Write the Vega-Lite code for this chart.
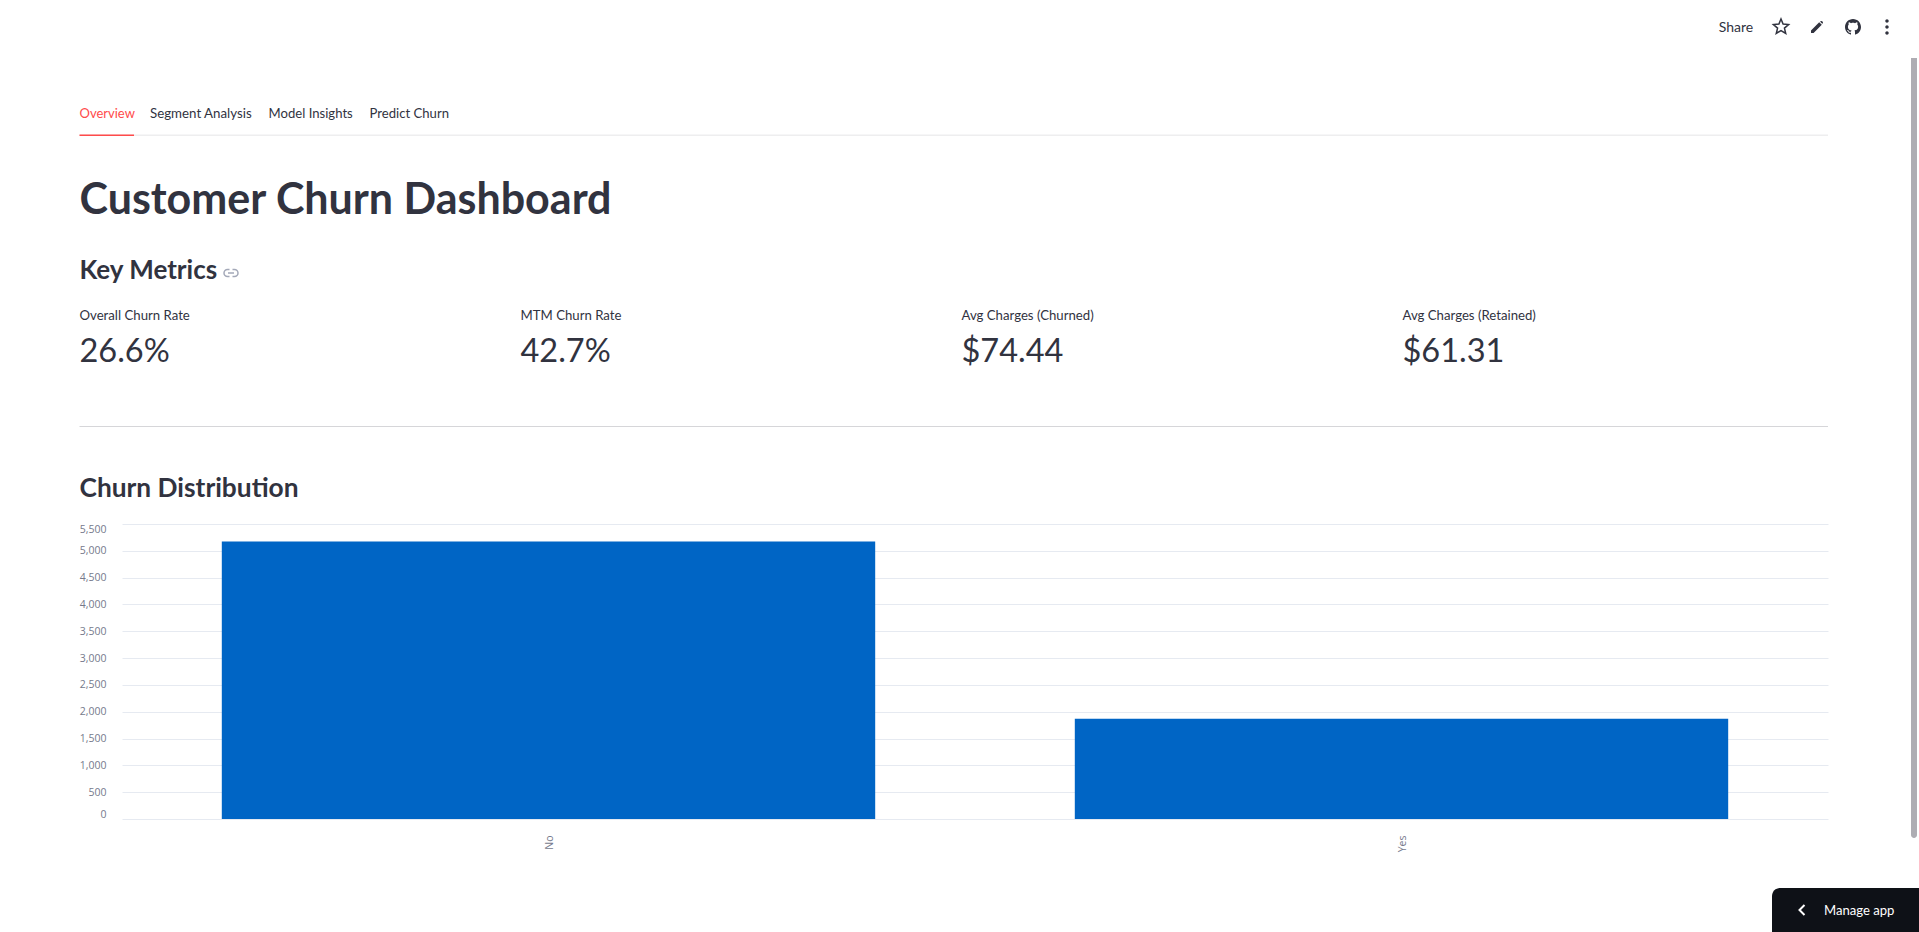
{"$schema":"https://vega.github.io/schema/vega-lite/v6.json","width":1706,"height":295,"autosize":"none","padding":{"left":122,"top":524,"right":91,"bottom":113},"background":"#ffffff","config":{"view":{"stroke":null},"text":{"font":"Lato"}},"resolve":{"scale":{"x":"independent","y":"independent"}},"layer":[
{"data":{"values":[{"Churn":"No","count":5174},{"Churn":"Yes","count":1869}]},"mark":{"type":"bar","color":"#0065c5"},"encoding":{"x":{"field":"Churn","type":"nominal","scale":{"type":"band","paddingInner":0.234,"paddingOuter":0.117},"axis":{"title":null,"labelAngle":-90,"labelColor":"#767a8c","labelFont":"Open Sans","labelFontSize":10.5,"ticks":false,"domain":false,"labelPadding":16,"labelOffset":1,"grid":false}},"y":{"field":"count","type":"quantitative","scale":{"domain":[0,5500]},"axis":{"title":null,"values":[0,500,1000,1500,2000,2500,3000,3500,4000,4500,5000,5500],"grid":true,"gridColor":"#e6eaf1","labelColor":"#767a8c","labelFont":"Open Sans","labelFontSize":10.5,"labelFlush":true,"labelPadding":16,"ticks":false,"domain":false}}}},
{"data":{"values":[{"part":"tab line"}]},"mark":{"type":"rect","color":"#eeeeef"},"encoding":{"x":{"field":"part","type":"nominal","scale":{"type":"band","range":[-42.5,1706],"paddingInner":0,"paddingOuter":0},"axis":null},"y":{"field":"part","type":"nominal","scale":{"type":"band","range":[-389.5,-388],"paddingInner":0,"paddingOuter":0},"axis":null}}},
{"data":{"values":[{"part":"active tab"}]},"mark":{"type":"rect","color":"#ff4b4b"},"encoding":{"x":{"field":"part","type":"nominal","scale":{"type":"band","range":[-42.5,12],"paddingInner":0,"paddingOuter":0},"axis":null},"y":{"field":"part","type":"nominal","scale":{"type":"band","range":[-389.5,-388],"paddingInner":0,"paddingOuter":0},"axis":null}}},
{"data":{"values":[{"part":"divider"}]},"mark":{"type":"rect","color":"#d6d6d9"},"encoding":{"x":{"field":"part","type":"nominal","scale":{"type":"band","range":[-42.5,1706],"paddingInner":0,"paddingOuter":0},"axis":null},"y":{"field":"part","type":"nominal","scale":{"type":"band","range":[-98,-97],"paddingInner":0,"paddingOuter":0},"axis":null}}},
{"data":{"values":[{"part":"scrollbar"}]},"mark":{"type":"rect","color":"#aeadb3","cornerRadiusBottomLeft":3,"cornerRadiusBottomRight":3},"encoding":{"x":{"field":"part","type":"nominal","scale":{"type":"band","range":[1789,1795],"paddingInner":0,"paddingOuter":0},"axis":null},"y":{"field":"part","type":"nominal","scale":{"type":"band","range":[-466,314],"paddingInner":0,"paddingOuter":0},"axis":null}}},
{"data":{"values":[{"part":"manage app"}]},"mark":{"type":"rect","color":"#0e1117","cornerRadiusTopLeft":8},"encoding":{"x":{"field":"part","type":"nominal","scale":{"type":"band","range":[1650,1797],"paddingInner":0,"paddingOuter":0},"axis":null},"y":{"field":"part","type":"nominal","scale":{"type":"band","range":[364,408],"paddingInner":0,"paddingOuter":0},"axis":null}}},
{"data":{"values":[{"tab":"Overview"}]},"mark":{"type":"text","align":"left","baseline":"middle","fontSize":13,"color":"#ff4b4b"},"encoding":{"text":{"field":"tab"},"x":{"field":"tab","type":"nominal","scale":{"type":"point","padding":0,"range":[-42.5,-42.5]},"axis":null},"y":{"field":"tab","type":"nominal","scale":{"type":"point","padding":0,"range":[-409.7,-409.7]},"axis":null}}},
{"data":{"values":[{"tab":"Segment Analysis"}]},"mark":{"type":"text","align":"left","baseline":"middle","fontSize":13.3,"color":"#31333f"},"encoding":{"text":{"field":"tab"},"x":{"field":"tab","type":"nominal","scale":{"type":"point","padding":0,"range":[28,28]},"axis":null},"y":{"field":"tab","type":"nominal","scale":{"type":"point","padding":0,"range":[-409.7,-409.7]},"axis":null}}},
{"data":{"values":[{"tab":"Model Insights"},{"tab":"Predict Churn"}]},"mark":{"type":"text","align":"left","baseline":"middle","fontSize":13.1,"color":"#31333f"},"encoding":{"text":{"field":"tab"},"x":{"field":"tab","type":"nominal","sort":null,"scale":{"type":"point","padding":0,"range":[146.6,247.6]},"axis":null},"y":{"field":"tab","type":"nominal","sort":null,"scale":{"type":"point","padding":0,"range":[-409.7,-409.7]},"axis":null}}},
{"data":{"values":[{"heading":"Customer Churn Dashboard"}]},"mark":{"type":"text","align":"left","baseline":"middle","fontSize":43,"fontWeight":700,"color":"#31333f"},"encoding":{"text":{"field":"heading"},"x":{"field":"heading","type":"nominal","scale":{"type":"point","padding":0,"range":[-42.5,-42.5]},"axis":null},"y":{"field":"heading","type":"nominal","scale":{"type":"point","padding":0,"range":[-323.5,-323.5]},"axis":null}}},
{"data":{"values":[{"heading":"Key Metrics"}]},"mark":{"type":"text","align":"left","baseline":"middle","fontSize":26,"fontWeight":700,"color":"#31333f"},"encoding":{"text":{"field":"heading"},"x":{"field":"heading","type":"nominal","scale":{"type":"point","padding":0,"range":[-42.5,-42.5]},"axis":null},"y":{"field":"heading","type":"nominal","scale":{"type":"point","padding":0,"range":[-253,-253]},"axis":null}}},
{"data":{"values":[{"heading":"Churn Distribution"}]},"mark":{"type":"text","align":"left","baseline":"middle","fontSize":26.3,"fontWeight":700,"color":"#31333f"},"encoding":{"text":{"field":"heading"},"x":{"field":"heading","type":"nominal","scale":{"type":"point","padding":0,"range":[-42.5,-42.5]},"axis":null},"y":{"field":"heading","type":"nominal","scale":{"type":"point","padding":0,"range":[-35,-35]},"axis":null}}},
{"data":{"values":[{"metric":"Overall Churn Rate","value":"26.6%"},{"metric":"MTM Churn Rate","value":"42.7%"},{"metric":"Avg Charges (Churned)","value":"$74.44"},{"metric":"Avg Charges (Retained)","value":"$61.31"}]},"mark":{"type":"text","align":"left","baseline":"middle","fontSize":13.2,"color":"#31333f"},"encoding":{"text":{"field":"metric"},"x":{"field":"metric","type":"nominal","sort":null,"scale":{"type":"point","padding":0,"range":[-42.5,1280.5]},"axis":null},"y":{"field":"metric","type":"nominal","sort":null,"scale":{"type":"point","padding":0,"range":[-208,-208]},"axis":null}}},
{"data":{"values":[{"metric":"Overall Churn Rate","value":"26.6%"},{"metric":"MTM Churn Rate","value":"42.7%"},{"metric":"Avg Charges (Churned)","value":"$74.44"},{"metric":"Avg Charges (Retained)","value":"$61.31"}]},"mark":{"type":"text","align":"left","baseline":"middle","fontSize":32.5,"fontWeight":400,"color":"#31333f"},"encoding":{"text":{"field":"value"},"x":{"field":"metric","type":"nominal","sort":null,"scale":{"type":"point","padding":0,"range":[-42.5,1280.5]},"axis":null},"y":{"field":"metric","type":"nominal","sort":null,"scale":{"type":"point","padding":0,"range":[-172.3,-172.3]},"axis":null}}},
{"data":{"values":[{"label":"Share"}]},"mark":{"type":"text","align":"center","baseline":"middle","fontSize":14,"color":"#31333f"},"encoding":{"text":{"field":"label"},"x":{"field":"label","type":"nominal","scale":{"type":"point","padding":0,"range":[1614,1614]},"axis":null},"y":{"field":"label","type":"nominal","scale":{"type":"point","padding":0,"range":[-496,-496]},"axis":null}}},
{"data":{"values":[{"label":"Manage app"}]},"mark":{"type":"text","align":"left","baseline":"middle","fontSize":13.1,"color":"#ffffff"},"encoding":{"text":{"field":"label"},"x":{"field":"label","type":"nominal","scale":{"type":"point","padding":0,"range":[1702,1702]},"axis":null},"y":{"field":"label","type":"nominal","scale":{"type":"point","padding":0,"range":[386.5,386.5]},"axis":null}}},
{"data":{"values":[{"icon":"star"}]},"mark":{"type":"point","shape":"M0,-1 L.26,-.36 L.95,-.31 L.43,.14 L.59,.81 L0,.45 L-.59,.81 L-.43,.14 L-.95,-.31 L-.26,-.36 Z","size":256,"filled":false,"stroke":"#31333f","strokeWidth":1.5,"opacity":1},"encoding":{"x":{"field":"icon","type":"nominal","scale":{"type":"point","padding":0,"range":[1659,1659]},"axis":null},"y":{"field":"icon","type":"nominal","scale":{"type":"point","padding":0,"range":[-497,-497]},"axis":null}}},
{"data":{"values":[{"icon":"pencil"}]},"mark":{"type":"point","shape":"M-6,6 L-6,3.4 L2.2,-4.8 L4.8,-2.2 L-3.4,6 Z M3,-5.6 L4.2,-6 Q4.8,-6.2 5.4,-5.6 L6,-5 Q6.2,-4.4 5.6,-3.8 L5.4,-3 Z","size":4,"filled":true,"color":"#31333f","opacity":1},"encoding":{"x":{"field":"icon","type":"nominal","scale":{"type":"point","padding":0,"range":[1695,1695]},"axis":null},"y":{"field":"icon","type":"nominal","scale":{"type":"point","padding":0,"range":[-497,-497]},"axis":null}}},
{"data":{"values":[{"icon":"github"}]},"mark":{"type":"point","shape":"M0 -8C-4.42 -8 -8 -4.42 -8 0c0 3.54 2.29 6.53 5.47 7.59.4.07.55-.17.55-.38 0-.19-.01-.82-.01-1.49-2.01.37-2.53-.49-2.69-.94-.09-.23-.48-.94-.82-1.13-.28-.15-.68-.52-.01-.53.63-.01 1.08.58 1.23.82.72 1.21 1.87.87 2.33.66.07-.52.28-.87.51-1.07-1.78-.2-3.64-.89-3.64-3.95 0-.87.31-1.59.82-2.15-.08-.2-.36-1.02.08-2.12 0 0 .67-.21 2.2.82.64-.18 1.32-.27 2-.27.68 0 1.36.09 2 .27 1.53-1.04 2.2-.82 2.2-.82.44 1.1.16 1.92.08 2.12.51.56.82 1.27.82 2.15 0 3.07-1.87 3.75-3.65 3.95.29.25.54.73.54 1.48 0 1.07-.01 1.93-.01 2.2 0 .21.15.46.55.38C5.71 6.53 8 3.54 8 0c0-4.42-3.58-8-8-8z","size":4,"filled":true,"color":"#31333f","opacity":1},"encoding":{"x":{"field":"icon","type":"nominal","scale":{"type":"point","padding":0,"range":[1731,1731]},"axis":null},"y":{"field":"icon","type":"nominal","scale":{"type":"point","padding":0,"range":[-497,-497]},"axis":null}}},
{"data":{"values":[{"icon":"menu"}]},"mark":{"type":"point","shape":"M-1.7,-6 a1.7,1.7 0 1 0 3.4,0 a1.7,1.7 0 1 0 -3.4,0 Z M-1.7,0 a1.7,1.7 0 1 0 3.4,0 a1.7,1.7 0 1 0 -3.4,0 Z M-1.7,6 a1.7,1.7 0 1 0 3.4,0 a1.7,1.7 0 1 0 -3.4,0 Z","size":4,"filled":true,"color":"#31333f","opacity":1},"encoding":{"x":{"field":"icon","type":"nominal","scale":{"type":"point","padding":0,"range":[1765,1765]},"axis":null},"y":{"field":"icon","type":"nominal","scale":{"type":"point","padding":0,"range":[-497,-497]},"axis":null}}},
{"data":{"values":[{"icon":"link"}]},"mark":{"type":"point","shape":"M-1.5,-3.5 H-3.5 a3.5,3.5 0 0 0 0,7 H-1.5 M1.5,-3.5 H3.5 a3.5,3.5 0 0 1 0,7 H1.5 M-3,0 H3","size":4,"filled":false,"stroke":"#a3a8b8","strokeWidth":1.5,"opacity":1},"encoding":{"x":{"field":"icon","type":"nominal","scale":{"type":"point","padding":0,"range":[109,109]},"axis":null},"y":{"field":"icon","type":"nominal","scale":{"type":"point","padding":0,"range":[-251,-251]},"axis":null}}},
{"data":{"values":[{"icon":"chevron"}]},"mark":{"type":"point","shape":"M2.5,-5 L-2.5,0 L2.5,5","size":4,"filled":false,"stroke":"#ffffff","strokeWidth":2,"opacity":1},"encoding":{"x":{"field":"icon","type":"nominal","scale":{"type":"point","padding":0,"range":[1680,1680]},"axis":null},"y":{"field":"icon","type":"nominal","scale":{"type":"point","padding":0,"range":[386,386]},"axis":null}}}
]}
